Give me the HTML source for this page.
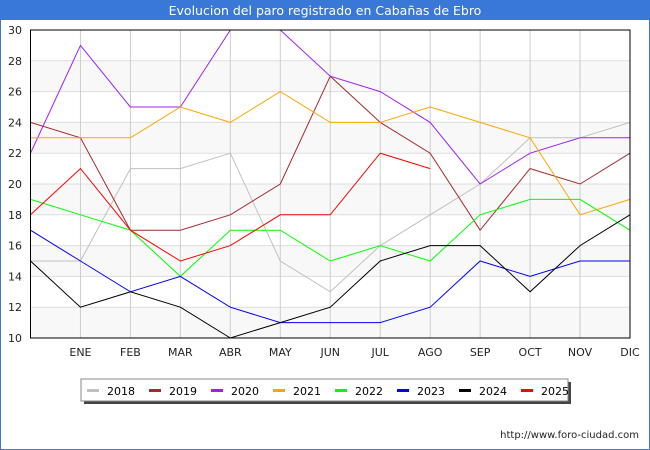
<!DOCTYPE html>
<html><head><meta charset="utf-8"><style>
body{margin:0;width:650px;height:450px;overflow:hidden;background:#fff;font-family:"DejaVu Sans","Liberation Sans",sans-serif}
#wrap{position:absolute;left:0;top:0;width:648px;height:448px;border:1px solid #3a78d8}
</style></head><body>
<div id="wrap"></div>
<svg id="c" width="650" height="450" style="position:absolute;left:0;top:0;font-family:'DejaVu Sans','Liberation Sans',sans-serif">
<rect x="0" y="0" width="650" height="20" fill="#3a78d8"/>
<text x="325" y="15" text-anchor="middle" fill="#fff" font-size="12.5">Evolucion del paro registrado en Cabañas de Ebro</text>
<g id="grid"></g><g id="lines"></g><g id="axes"></g>
<rect x="84" y="382" width="487" height="22" fill="#444"/>
<rect x="81" y="379" width="487" height="22" fill="#fff" stroke="#888"/>
<g id="leg"></g>
<text x="639" y="438" text-anchor="end" font-size="10" fill="#222">http://www.foro-ciudad.com</text>
</svg>
<script>
const months=["","ENE","FEB","MAR","ABR","MAY","JUN","JUL","AGO","SEP","OCT","NOV","DIC"];
const yTicks=[10,12,14,16,18,20,22,24,26,28,30];
const years=["2018","2019","2020","2021","2022","2023","2024","2025"];
const colors=["#c0c0c0","#a52a2a","#a020f0","#ffa500","#00ff00","#0000ff","#000000","#ff0000"];
const s2018=[15,15,21,21,22,15,13,16,18,20,23,23,24];
const s2019=[24,23,17,17,18,20,27,24,22,17,21,20,22];
const s2020=[22,29,25,25,30,30,27,26,24,20,22,23,23];
const s2021=[23,23,23,25,24,26,24,24,25,24,23,18,19];
const s2022=[19,18,17,14,17,17,15,16,15,18,19,19,17];
const s2023=[17,15,13,14,12,11,11,11,12,15,14,15,15];
const s2024=[15,12,13,12,10,11,12,15,16,16,13,16,18];
const s2025=[18,21,17,15,16,18,18,22,21];
const series=[s2018,s2019,s2020,s2021,s2022,s2023,s2024,s2025];
const X0=30.5,X1=630,Y0=338,Y1=30;
const x=i=>X0+i*(X1-X0)/12;
const y=v=>Y0-(v-10)*(Y0-Y1)/20;
const NS="http://www.w3.org/2000/svg";
function mk(t,a,p){const e=document.createElementNS(NS,t);for(const k in a)e.setAttribute(k,a[k]);p.appendChild(e);return e;}
const g=document.getElementById('grid'),ax=document.getElementById('axes'),L=document.getElementById('lines'),lg=document.getElementById('leg');
for(let v=10;v<30;v+=4){const r=mk('rect',{x:X0,y:y(v+2),width:X1-X0,height:y(v)-y(v+2),fill:'#f8f8f8'},g);

}
yTicks.forEach(v=>{const l=mk('line',{x1:X0,x2:X1,y1:y(v),y2:y(v),stroke:'#ddd'},g);


const t=mk('text',{x:22,y:y(v)+4,'text-anchor':'end','font-size':11,fill:'#222'},ax);t.textContent=v;

});
months.forEach((m,i)=>{if(i>0){const l=mk('line',{x1:x(i),x2:x(i),y1:Y1,y2:Y0,stroke:'#ccc'},g);


const t=mk('text',{x:x(i),y:356,'text-anchor':'middle','font-size':11,fill:'#222'},ax);t.textContent=m;

}});
const b=mk('rect',{x:X0,y:Y1,width:X1-X0,height:Y0-Y1,fill:'none',stroke:'#000'},ax);


series.forEach((s,k)=>{const p=mk('polyline',{points:s.map((v,i)=>x(i)+','+y(v)).join(' '),fill:'none',stroke:colors[k],'stroke-width':1},L);


const lx=87+k*62;
const m=mk('rect',{x:lx,y:389,width:12,height:3,fill:colors[k]},lg);


const t=mk('text',{x:lx+20,y:395,'font-size':11,fill:'#000'},lg);t.textContent=years[k];

});
</script>
</body></html>
